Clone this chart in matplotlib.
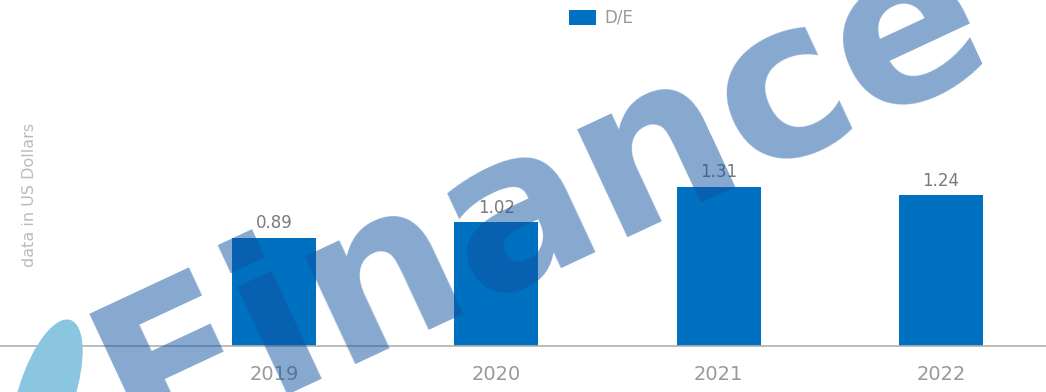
import matplotlib
matplotlib.use("Agg")
import matplotlib.pyplot as plt
from matplotlib.patches import Ellipse, Patch

years = ["2019", "2020", "2021", "2022"]
de_values = [0.89, 1.02, 1.31, 1.24]
series_name = "D/E"
y_label = "data in US Dollars"
watermark = "Finance"

fig = plt.figure(figsize=(10.46, 3.92), dpi=100)
ax = fig.add_axes([0, 46 / 392, 1, 346 / 392])

x = list(range(len(years)))
bars = ax.bar(x, de_values, width=0.378, color="#0070C0", zorder=2)
ax.set_xlim(-1.232, 3.472)
ax.set_ylim(0, 2.85)
ax.set_xticks(x)
ax.set_xticklabels(years, fontsize=14, color="#999999")
ax.tick_params(axis="x", length=0, pad=14)
ax.set_yticks([])
for s in ["top", "right", "left"]:
    ax.spines[s].set_visible(False)
ax.spines["bottom"].set_color("#b0b0b0")
ax.spines["bottom"].set_linewidth(1.2)
ax.bar_label(bars, labels=[f"{v:.2f}" for v in de_values], padding=4,
             fontsize=12, color="#7a7a7a")

fig.text(30 / 1046, 1 - 195 / 392, y_label, rotation=90, ha="center", va="center",
         fontsize=11.5, color="#bbbbbb")

fig.legend(handles=[Patch(facecolor="#0070C0", label=series_name)],
           loc="center", bbox_to_anchor=(601 / 1046, 1 - 18 / 392), frameon=False,
           fontsize=12, labelcolor="#999999", handlelength=1.6, handleheight=1.0,
           handletextpad=0.5)

ov = fig.add_axes([0, 0, 1, 1], zorder=10)
ov.set_xlim(0, 1046)
ov.set_ylim(392, 0)
ov.axis("off")
ov.patch.set_alpha(0)
ov.add_patch(Ellipse((47, 392), 55, 150, angle=18, color="#8ac6e0", zorder=1))
ov.text(542, 201, watermark, rotation=25, rotation_mode="anchor", ha="center", va="center",
        fontsize=156, fontweight="bold", family="DejaVu Sans", color="#0F53A1", alpha=0.5)

fig.savefig("out.png", dpi=100)
